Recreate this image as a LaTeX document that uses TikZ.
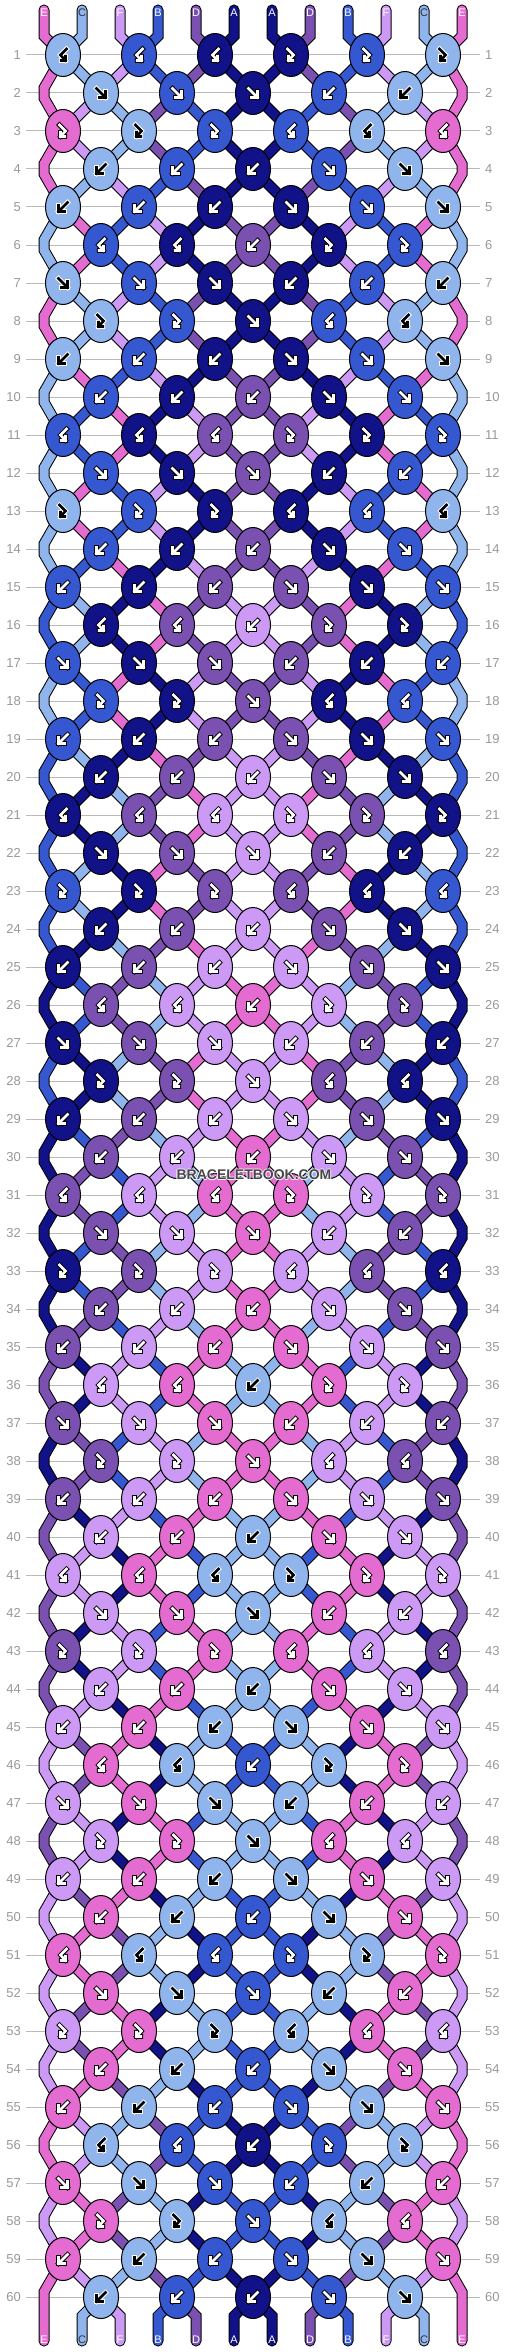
\documentclass[tikz,border=0pt]{standalone}
\usepackage{fontspec}
\setmainfont{Liberation Sans}
\usetikzlibrary{shapes.geometric}
\definecolor{cA}{RGB}{17,17,136}
\definecolor{cB}{RGB}{53,88,208}
\definecolor{cC}{RGB}{144,180,236}
\definecolor{cD}{RGB}{122,80,176}
\definecolor{cE}{RGB}{228,108,208}
\definecolor{cF}{RGB}{204,153,245}
\tikzset{
 knot/.style={ellipse, draw=black, line width=1pt, minimum width=35pt, minimum height=43pt, inner sep=0pt},
 bandout/.style={line width=11pt, draw=black, line cap=round, line join=miter},
 bandin/.style={line width=9pt, line cap=round, line join=miter},
 gridline/.style={draw=black!27, line width=1pt},
 rownum/.style={font=\fontsize{13}{13}\selectfont, text=black!40, inner sep=0pt},
 strlab/.style={font=\fontsize{11}{11}\selectfont, inner sep=0pt},
 gout/.style={line width=4.6pt, line cap=rect, line join=miter},
 gin/.style={line width=2.6pt, line cap=rect, line join=miter},
 wmark/.style={font=\bfseries\fontsize{14}{14}\selectfont, inner sep=0pt},
}
\newcommand\band[2]{\draw[bandout] #2;\draw[bandin,draw=c#1] #2;}
\newcommand\gpf[1]{\draw[#1] (-4.5,-4.5) -- (4.5,4.5) (-1.5,4.5) -- (4.5,4.5) -- (4.5,-1.5);}
\newcommand\gpb[1]{\draw[#1] (4.5,-4.5) -- (-4.5,4.5) (1.5,4.5) -- (-4.5,4.5) -- (-4.5,-1.5);}
\newcommand\gpr[1]{\draw[#1] (-3.5,-6) -- (2.5,0) -- (-2.5,5.5) (1.8,5.5) -- (-2.5,5.5) -- (-2.5,1.2);}
\newcommand\gpl[1]{\draw[#1] (3.5,-6) -- (-2.5,0) -- (2.5,5.5) (-1.8,5.5) -- (2.5,5.5) -- (2.5,1.2);}
\newcommand\glyph[4]{%
 \begin{scope}[shift={(#2,#3)}]
  \if C#4\def\gic{black}\def\goc{white}\else\def\gic{white}\def\goc{black}\fi
  \csname gp#1\endcsname{gout,draw=\goc}
  \csname gp#1\endcsname{gin,draw=\gic}
 \end{scope}}
\newcommand\settypes[1]{%
  \ifcase#1 \def\types{b,b,b,f,f}%
  \or \def\types{l,l,l,r,r,r}%
  \or \def\types{f,f,f,b,b}%
  \or \def\types{r,r,r,l,l,l}%
  \or \def\types{b,b,b,f,f}%
  \or \def\types{b,b,b,f,f,f}%
  \or \def\types{l,l,b,r,r}%
  \or \def\types{f,f,f,b,b,b}%
  \or \def\types{r,r,f,l,l}%
  \or \def\types{b,b,b,f,f,f}%
  \fi}
\begin{document}
\begin{tikzpicture}[x=1pt,y=-1pt]
\useasboundingbox (0,0) rectangle (506,2352);
\fill[white] (0,0) rectangle (506,2352);
% grid lines and row numbers
\foreach \rr in {1,...,60}{
  \pgfmathtruncatemacro\ry{55+38*(\rr-1)}
  \draw[gridline] (26,\ry) -- (480,\ry);
  \node[rownum, anchor=east] (ln\rr) at (21,\ry) {\rr};
  \node[rownum, anchor=west] (rn\rr) at (485,\ry) {\rr};
}
% initial strings
\foreach \i/\c in {0/E,1/C,2/F,3/B,4/D,5/A,6/A,7/D,8/B,9/F,10/C,11/E}{
  \expandafter\xdef\csname st\i\endcsname{\c}
  \pgfmathtruncatemacro\xx{44+38*\i}
  \coordinate (top\i) at (\xx,10);
  \coordinate (bot\i) at (\xx,2341);
}
% simulation and strings
\foreach \rr in {1,...,60}{
  \pgfmathtruncatemacro\ry{55+38*(\rr-1)}
  \pgfmathtruncatemacro\rmod{mod(\rr,10)}
  \pgfmathtruncatemacro\isodd{mod(\rr,2)}
  \pgfmathtruncatemacro\rp{\rr-1}
  \pgfmathtruncatemacro\rpp{\rr-2}
  \pgfmathtruncatemacro\ya{\ry-43}
  \pgfmathtruncatemacro\yb{\ry-33}
  \settypes{\rmod}
  \foreach \ty [count=\kk from 0] in \types {
    \pgfmathtruncatemacro\kp{2*\kk+1-\isodd}
    \pgfmathtruncatemacro\kq{\kp+1}
    \pgfmathtruncatemacro\kpl{\kp-1}
    \pgfmathtruncatemacro\xk{63+38*\kp}
    \pgfmathtruncatemacro\xl{44+38*\kp}
    \pgfmathtruncatemacro\xr{44+38*\kq}
    \edef\lefc{\csname st\kp\endcsname}
    \edef\rigc{\csname st\kq\endcsname}
    \def\swp{0}
    \if f\ty\edef\kc{\lefc}\def\swp{1}\fi
    \if b\ty\edef\kc{\rigc}\def\swp{1}\fi
    \if r\ty\edef\kc{\lefc}\fi
    \if l\ty\edef\kc{\rigc}\fi
    \expandafter\xdef\csname kc\rr-\kp\endcsname{\kc}
    \coordinate (p\rr-\kp) at (\xk,\ry);
    \ifnum\rr=1
      \band{\lefc}{(top\kp) -- (\xl,36) -- (p\rr-\kp)}
      \band{\rigc}{(top\kq) -- (\xr,36) -- (p\rr-\kp)}
    \else
      \ifnum\kp=0
        \band{\lefc}{(p\rpp-0) -- (44,\ya) -- (44,\yb) -- (p\rr-\kp)}
      \else
        \band{\lefc}{(p\rp-\kpl) -- (p\rr-\kp)}
      \fi
      \ifnum\kq=11
        \band{\rigc}{(p\rpp-10) -- (462,\ya) -- (462,\yb) -- (p\rr-\kp)}
      \else
        \band{\rigc}{(p\rp-\kq) -- (p\rr-\kp)}
      \fi
    \fi
    \ifnum\swp=1
      \expandafter\xdef\csname st\kp\endcsname{\rigc}
      \expandafter\xdef\csname st\kq\endcsname{\lefc}
    \fi
  }
}
% bottom string ends
\foreach \kp in {1,3,5,7,9}{
  \pgfmathtruncatemacro\kq{\kp+1}
  \pgfmathtruncatemacro\xl{44+38*\kp}
  \pgfmathtruncatemacro\xr{44+38*\kq}
  \edef\lefc{\csname st\kp\endcsname}
  \edef\rigc{\csname st\kq\endcsname}
  \band{\lefc}{(p60-\kp) -- (\xl,2316) -- (bot\kp)}
  \band{\rigc}{(p60-\kp) -- (\xr,2316) -- (bot\kq)}
}
\edef\lefc{\csname st0\endcsname}
\band{\lefc}{(p59-0) -- (44,2292) -- (bot0)}
\edef\rigc{\csname st11\endcsname}
\band{\rigc}{(p59-10) -- (462,2292) -- (bot11)}
% knots
\foreach \rr in {1,...,60}{
  \pgfmathtruncatemacro\ry{55+38*(\rr-1)}
  \pgfmathtruncatemacro\rmod{mod(\rr,10)}
  \pgfmathtruncatemacro\isodd{mod(\rr,2)}
  \settypes{\rmod}
  \foreach \ty [count=\kk from 0] in \types {
    \pgfmathtruncatemacro\kp{2*\kk+1-\isodd}
    \pgfmathtruncatemacro\xk{63+38*\kp}
    \edef\kc{\csname kc\rr-\kp\endcsname}
    \node[knot, fill=c\kc] (k\rr-\kp) at (p\rr-\kp) {};
    \glyph{\ty}{\xk}{\ry}{\kc}
  }
}
% string letters
\foreach \i/\c in {0/E,1/C,2/F,3/B,4/D,5/A,6/A,7/D,8/B,9/F,10/C,11/E}{
  \pgfmathtruncatemacro\xx{44+38*\i}
  \if C\c\def\lc{black!80}\else\def\lc{white}\fi
  \node[strlab,text=\lc] (tl\i) at (\xx,12.5) {\c};
}
\foreach \i in {0,...,11}{
  \pgfmathtruncatemacro\xx{44+38*\i}
  \edef\c{\csname st\i\endcsname}
  \if C\c\def\lc{black!80}\else\def\lc{white}\fi
  \node[strlab,text=\lc] (bl\i) at (\xx,2340) {\c};
}
% watermark with light halo
\foreach \dx/\dy in {-1/0,1/0,0/-1,0/1,-0.7/-0.7,0.7/0.7,-0.7/0.7,0.7/-0.7}{
  \node[wmark, text=white, text opacity=0.6] at (254+\dx,1175+\dy) {BRACELETBOOK.COM};
}
\node[wmark, text=black!72] (wm) at (254,1175) {BRACELETBOOK.COM};
\end{tikzpicture}
\end{document}
